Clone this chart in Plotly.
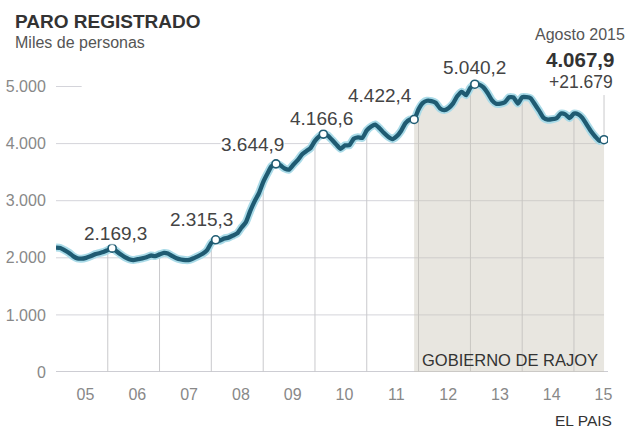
import pandas as pd
import plotly.graph_objects as go

# ---------------- data ----------------
months = pd.date_range("2005-01-01", "2015-08-01", freq="MS")
paro = [
    # 2005
    2179, 2172, 2135, 2090, 2030, 1990, 1985, 2000, 2025, 2060, 2080, 2100,
    # 2006
    2135, 2169.3, 2120, 2060, 2010, 1975, 1960, 1975, 1990, 2010, 2040, 2030,
    # 2007
    2060, 2085, 2075, 2030, 1990, 1970, 1960, 1962, 1995, 2030, 2070, 2129,
    # 2008
    2261, 2315.3, 2300, 2338, 2353, 2390, 2426, 2530, 2625, 2818, 2989, 3128,
    # 2009
    3327, 3481, 3605, 3644.9, 3620, 3564, 3544, 3629, 3709, 3808, 3868, 3923,
    # 2010
    4048, 4130, 4166.6, 4142, 4066, 3982, 3908, 3969, 3972, 4085, 4110, 4100,
    # 2011
    4231, 4299, 4333, 4269, 4189, 4121, 4080, 4130, 4226, 4360, 4420, 4422.4,
    # 2012
    4599, 4712, 4750, 4744, 4714, 4615, 4587, 4625, 4705, 4833, 4907, 4848,
    # 2013
    4980, 5040.2, 5035, 4989, 4890, 4763, 4698, 4699, 4724, 4811, 4808, 4701,
    # 2014
    4814, 4812, 4795, 4684, 4572, 4449, 4419, 4427, 4447, 4526, 4512, 4448,
    # 2015
    4525, 4512, 4451, 4333, 4215, 4120, 4046, 4067.9,
]
year_tick_dates = [f"{y}-07-28" for y in range(2005, 2016)]
year_tick_labels = ["05", "06", "07", "08", "09", "10", "11", "12", "13", "14", "15"]
y_tick_values = [0, 1000, 2000, 3000, 4000, 5000]
y_tick_labels = ["0", "1.000", "2.000", "3.000", "4.000", "5.000"]
grid_years = list(range(2006, 2016))

label_dates = ["2006-02-01", "2008-02-01", "2009-04-01", "2010-03-01", "2011-12-01", "2013-02-01"]
label_texts = ["2.169,3", "2.315,3", "3.644,9", "4.166,6", "4.422,4", "5.040,2"]
last_month_text = "Agosto 2015"
last_value_text = "4.067,9"
last_change_text = "+21.679"
rajoy_start = "2011-12-01"
title_text = "PARO REGISTRADO"
subtitle_text = "Miles de personas"
rajoy_text = "GOBIERNO DE RAJOY"
source_text = "EL PAIS"

# ---------------- styles ----------------
FONT = "Liberation Sans, Arial, Helvetica, sans-serif"
LINE = "#1f5b72"
HALO = "#aadbe8"
GRID = "#d4d4da"
label_shifts = [(3, 15), (-14, 20), (-23, 19), (-2, 16), (-34, 24), (0, 17)]

series = pd.Series(paro, index=months)
L, R, T, B = 56, 32, 60, 58
W, H = 640, 430
pw, ph = W - L - R, H - T - B
YMAX = 5464


def px_x(p):
    return (p - L) / pw


def px_y(p):
    return (H - B - p) / ph


fig = go.Figure()

# Rajoy period shaded area under the curve
raj = series[series.index >= pd.Timestamp(rajoy_start)]
fig.add_trace(go.Scatter(
    x=raj.index, y=raj.values, mode="lines",
    line=dict(width=0, shape="spline", smoothing=0.5),
    fill="tozeroy", fillcolor="rgba(200,195,180,0.42)", hoverinfo="skip"))

# halo + main line
fig.add_trace(go.Scatter(x=series.index, y=series.values, mode="lines",
                         line=dict(color=HALO, width=8, shape="spline", smoothing=0.5),
                         hoverinfo="skip"))
fig.add_trace(go.Scatter(x=series.index, y=series.values, mode="lines",
                         line=dict(color=LINE, width=4.3, shape="spline", smoothing=0.5)))

# marked points
mk_x = [pd.Timestamp(d) for d in label_dates] + [series.index[-1]]
mk_y = [series[pd.Timestamp(d)] for d in label_dates] + [series.iloc[-1]]
fig.add_trace(go.Scatter(x=mk_x, y=mk_y, mode="markers",
                         marker=dict(size=8, color="white", line=dict(color=LINE, width=1.6))))

shapes = []
# horizontal gridlines
for v in y_tick_values[1:-1]:
    shapes.append(dict(type="line", xref="x", yref="y", x0=series.index[0], x1=series.index[-1],
                       y0=v, y1=v, line=dict(color=GRID, width=1), layer="below"))
# short stub for top value
shapes.append(dict(type="line", xref="x", yref="y", x0=series.index[0], x1=series.index[6],
                   y0=y_tick_values[-1], y1=y_tick_values[-1], line=dict(color=GRID, width=1), layer="below"))
# baseline
shapes.append(dict(type="line", xref="paper", yref="y", x0=0, x1=1, y0=0, y1=0,
                   line=dict(color="#bdbdc4", width=1.3), layer="below"))
# vertical gridlines up to the curve
for yr in grid_years:
    d = pd.Timestamp(f"{yr}-01-01")
    shapes.append(dict(type="line", xref="x", yref="y", x0=d, x1=d, y0=0, y1=series[d],
                       line=dict(color="#c9c9cc", width=1), layer="below"))
# leader line for the last value
shapes.append(dict(type="line", xref="x", yref="y", x0=series.index[-1], x1=series.index[-1],
                   y0=series.iloc[-1], y1=4850, line=dict(color="#c9c9cc", width=1), layer="below"))

annotations = []
for d, t, (dx, dy) in zip(label_dates, label_texts, label_shifts):
    annotations.append(dict(x=pd.Timestamp(d), y=series[pd.Timestamp(d)], xref="x", yref="y",
                            text=t, showarrow=False, xshift=dx, yshift=dy,
                            font=dict(family=FONT, size=19, color="#444"),
                            bgcolor="rgba(255,255,255,0.9)", borderpad=0))

annotations += [
    dict(x=px_x(13), y=px_y(21), xref="paper", yref="paper", xanchor="left", yanchor="middle",
         text=f"<b>{title_text}</b>", showarrow=False, font=dict(family=FONT, size=19, color="#333")),
    dict(x=px_x(13), y=px_y(43), xref="paper", yref="paper", xanchor="left", yanchor="middle",
         text=subtitle_text, showarrow=False, font=dict(family=FONT, size=16, color="#555")),
    dict(x=px_x(580), y=px_y(34), xref="paper", yref="paper", xanchor="center", yanchor="middle",
         text=last_month_text, showarrow=False, font=dict(family=FONT, size=16, color="#555")),
    dict(x=px_x(580), y=px_y(59), xref="paper", yref="paper", xanchor="center", yanchor="middle",
         text=f"<b>{last_value_text}</b>", showarrow=False, font=dict(family=FONT, size=20.5, color="#333")),
    dict(x=px_x(581), y=px_y(82), xref="paper", yref="paper", xanchor="center", yanchor="middle",
         text=last_change_text, showarrow=False, font=dict(family=FONT, size=17.5, color="#444")),
    dict(x=px_x(420), y=px_y(360), xref="paper", yref="paper", xanchor="left", yanchor="middle",
         text=rajoy_text, showarrow=False, font=dict(family=FONT, size=16.5, color="#333")),
    dict(x=px_x(614), y=px_y(421), xref="paper", yref="paper", xanchor="right", yanchor="middle",
         text=source_text, showarrow=False, font=dict(family=FONT, size=15.5, color="#333")),
]

fig.update_layout(
    width=W, height=H, margin=dict(l=L, r=R, t=T, b=B, autoexpand=False),
    paper_bgcolor="white", plot_bgcolor="white", showlegend=False,
    shapes=shapes, annotations=annotations,
    xaxis=dict(type="date", range=["2005-01-01", "2015-08-29"], showgrid=False, zeroline=False,
               showline=False, tickmode="array", tickvals=year_tick_dates, ticktext=year_tick_labels,
               ticks="outside", ticklen=8, tickcolor="rgba(0,0,0,0)", automargin=False,
               tickfont=dict(family=FONT, size=16, color="#888")),
    yaxis=dict(range=[0, YMAX], showgrid=False, zeroline=False, showline=False,
               tickmode="array", tickvals=y_tick_values, ticktext=y_tick_labels,
               ticks="outside", ticklen=6, tickcolor="rgba(0,0,0,0)", automargin=False,
               tickfont=dict(family=FONT, size=16, color="#888")),
)

fig.write_html("out.html")
